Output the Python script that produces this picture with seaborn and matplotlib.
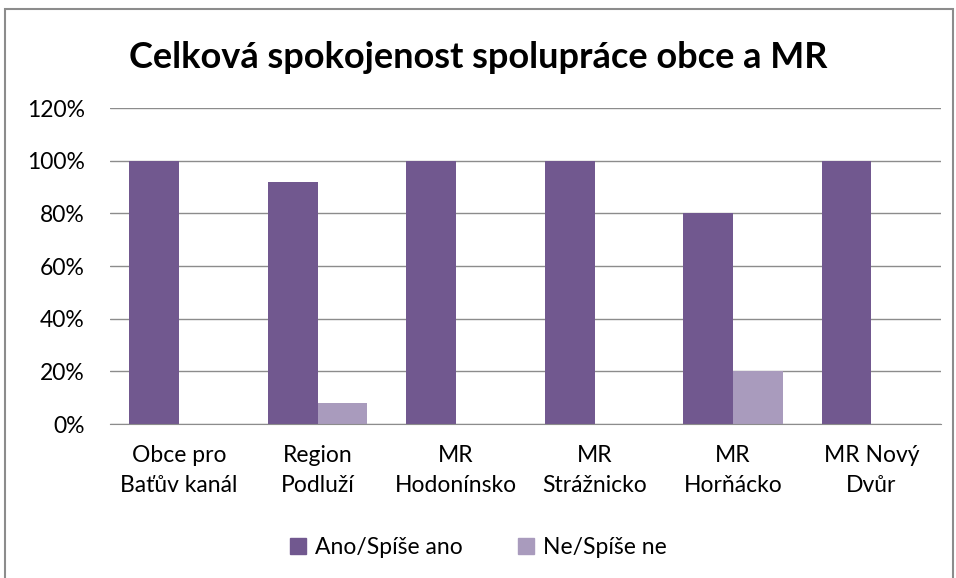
import matplotlib
matplotlib.use("Agg")
import matplotlib.pyplot as plt
import seaborn as sns
import pandas as pd
from matplotlib.patches import Rectangle
from matplotlib.ticker import PercentFormatter

# data
categories = ["Obce pro\nBaťův kanál", "Region\nPodluží", "MR\nHodonínsko",
              "MR\nStrážnicko", "MR\nHorňácko", "MR Nový\nDvůr"]
ano = [100, 92, 100, 100, 80, 100]
ne = [0, 8, 0, 0, 20, 0]
series = ["Ano/Spíše ano", "Ne/Spíše ne"]
colors = ["#71588F", "#A99BBD"]

df = pd.DataFrame({
    "kategorie": categories * 2,
    "skupina": [series[0]] * len(categories) + [series[1]] * len(categories),
    "hodnota": ano + ne,
})

sns.set_style("white")
plt.rcParams["font.family"] = ["Lato", "DejaVu Sans"]
plt.rcParams["text.color"] = "black"
plt.rcParams["xtick.color"] = "black"
plt.rcParams["ytick.color"] = "black"

fig = plt.figure(figsize=(9.56, 5.78), dpi=100)
ax = fig.add_axes([0.115, 0.2664, 0.869, 0.5467])

sns.barplot(data=df, x="kategorie", y="hodnota", hue="skupina",
            palette=colors, width=0.72, saturation=1, linewidth=0,
            ax=ax, legend=False)

ax.set_ylim(0, 120)
ax.set_xlim(-0.5, 5.5)
ax.set_yticks(range(0, 121, 20))
ax.yaxis.set_major_formatter(PercentFormatter(decimals=0))
ax.yaxis.grid(True, color="#8C8C8C", linewidth=1)
ax.set_axisbelow(True)
for s in ["top", "right", "left"]:
    ax.spines[s].set_visible(False)
ax.spines["bottom"].set_color("#8C8C8C")
ax.tick_params(axis="y", length=0, pad=18, labelsize=16.5)
ax.tick_params(axis="x", length=0, pad=15, labelsize=16.5)
for lbl in ax.get_xticklabels():
    lbl.set_linespacing(1.55)
ax.set_xlabel("")
ax.set_ylabel("")

fig.text(0.5, 0.90, "Celková spokojenost spolupráce obce a MR",
         ha="center", va="center", fontsize=26, fontweight="bold")

handles = [Rectangle((0, 0), 1, 1, color=c) for c in colors]
fig.legend(handles, series, loc="center", bbox_to_anchor=(0.5, 0.052),
           ncol=2, frameon=False, fontsize=16.5, handlelength=0.7,
           handleheight=0.7, handletextpad=0.4, columnspacing=2.4)

# ramecek grafu
fig.patches.append(Rectangle((5 / 956, -0.05), 948 / 956, 1 - 9 / 578 + 0.05,
                             transform=fig.transFigure, fill=False,
                             edgecolor="#8C8C8C", linewidth=1.5))

fig.savefig("out.png", dpi=100)
